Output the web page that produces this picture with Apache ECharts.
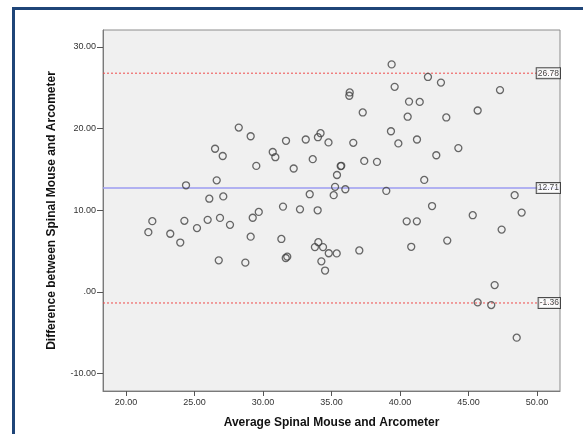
<!DOCTYPE html>
<html>
<head>
<meta charset="utf-8">
<script src="https://cdn.jsdelivr.net/npm/echarts@6/dist/echarts.min.js"></script>
<style>
  html, body { margin: 0; padding: 0; background: #fff; }
  #chart { width: 583px; height: 434px; }
</style>
</head>
<body>
<div id="chart"></div>
<script>
// Bland-Altman: average of the two methods vs their difference
const avgValues = [
  28.23, 29.10, 26.50, 27.06, 29.51, 30.71, 30.90, 31.68, 32.24, 33.12,
  34.01, 34.20, 33.63, 34.78, 24.38, 26.62, 26.08, 27.10, 33.41, 31.46,
  32.70, 33.99, 29.69, 29.25, 21.92, 21.63, 23.23, 23.96, 24.26, 25.18,
  25.96, 26.86, 27.59, 29.10, 31.34, 26.77, 28.71, 31.66, 31.77, 33.79,
  34.04, 34.38, 34.80, 34.26, 34.53, 35.38, 37.03, 40.82, 43.45, 40.49,
  41.23, 47.42, 45.31, 48.88, 48.37, 42.34, 41.77, 39.00, 36.01, 35.26,
  35.16, 35.40, 35.67, 35.71, 37.39, 38.32, 42.65, 44.26, 41.24, 39.88,
  39.34, 36.59, 37.28, 40.56, 43.38, 45.67, 40.66, 41.44, 36.33, 36.30,
  39.61, 42.99, 42.04, 39.39, 47.30, 46.91, 45.67, 46.66, 48.52
];
const diffValues = [
  20.12, 19.06, 17.53, 16.64, 15.43, 17.13, 16.49, 18.50, 15.11, 18.66,
  18.94, 19.43, 16.25, 18.30, 13.05, 13.66, 11.41, 11.69, 11.96, 10.44,
  10.11,  9.99,  9.79,  9.08,  8.66,  7.31,  7.12,  6.04,  8.70,  7.81,
   8.82,  9.06,  8.21,  6.76,  6.48,  3.86,  3.58,  4.15,  4.31,  5.48,
   6.08,  5.48,  4.73,  3.74,  2.61,  4.71,  5.07,  5.52,  6.28,  8.64,
   8.64,  7.63,  9.39,  9.71, 11.84, 10.51, 13.71, 12.37, 12.57, 12.86,
  11.84, 14.31, 15.40, 15.44, 16.04, 15.92, 16.73, 17.61, 18.66, 18.18,
  19.67, 18.25, 21.97, 21.45, 21.36, 22.21, 23.30, 23.26, 24.42, 24.02,
  25.11, 25.63, 26.32, 27.86, 24.71,  0.83, -1.29, -1.62, -5.61
];
const meanDiff = 12.71;
const upperLimit = 26.78;
const lowerLimit = -1.36;
const xTicks = [20, 25, 30, 35, 40, 45, 50];
const yTicks = [-10, 0, 10, 20, 30];
const xMin = 18.32, xMax = 51.68;
const yMin = -12.14, yMax = 32.07;

const fmt = v => (v === 0 ? '.00' : v.toFixed(2));
const refLines = [upperLimit, meanDiff, lowerLimit];

// horizontal reference line across the whole x range
function refLine(v, color, type, width) {
  return {
    type: 'line', silent: true, symbol: 'none',
    data: [[xMin, v], [xMax, v]],
    lineStyle: { color, type, width },
    z: 2
  };
}

const chart = echarts.init(document.getElementById('chart'));
chart.setOption({
  animation: false,
  backgroundColor: '#fff',
  textStyle: { fontFamily: 'Liberation Sans, Arial, sans-serif' },
  graphic: [
    { type: 'rect', shape: { x: 12, y: 7, width: 3, height: 427 }, style: { fill: '#1F4578' } },
    { type: 'rect', shape: { x: 12, y: 7, width: 571, height: 3 }, style: { fill: '#1F4578' } }
  ],
  grid: {
    left: 103, top: 30, width: 457, height: 365,
    show: true, backgroundColor: '#F0F0F0', borderColor: '#8c8c8c', borderWidth: 1
  },
  xAxis: {
    type: 'value', min: xMin, max: xMax,
    name: 'Average Spinal Mouse and Arcometer',
    nameLocation: 'middle', nameGap: 26,
    nameTextStyle: { fontSize: 12, fontWeight: 'bold', color: '#111' },
    axisLine: { show: true, onZero: false, lineStyle: { color: '#7a7a7a' } },
    axisTick: { show: true, length: 5, customValues: xTicks, lineStyle: { color: '#555' } },
    axisLabel: { customValues: xTicks, formatter: fmt, fontSize: 9, color: '#333', margin: 7 },
    splitLine: { show: false }
  },
  yAxis: {
    type: 'value', min: yMin, max: yMax,
    name: 'Difference between Spinal Mouse and Arcometer',
    nameLocation: 'middle', nameGap: 45,
    nameTextStyle: { fontSize: 12, fontWeight: 'bold', color: '#111' },
    axisLine: { show: true, onZero: false, lineStyle: { color: '#7a7a7a' } },
    axisTick: { show: true, length: 6, customValues: yTicks, lineStyle: { color: '#555' } },
    axisLabel: { customValues: yTicks, formatter: fmt, fontSize: 9, color: '#333', margin: 7 },
    splitLine: { show: false }
  },
  series: [
    refLine(upperLimit, '#EE4A4A', [2, 2], 1),
    refLine(meanDiff, '#9C9CF2', 'solid', 1.5),
    refLine(lowerLimit, '#EE4A4A', [2, 2], 1),
    {
      type: 'scatter',
      symbol: 'circle',
      symbolSize: 7,
      data: avgValues.map((x, i) => [x, diffValues[i]]),
      itemStyle: { color: 'rgba(0,0,0,0)', borderColor: '#444', borderWidth: 1.3 },
      z: 3
    },
    {
      type: 'scatter',
      symbolSize: 0,
      silent: true,
      data: refLines.map(v => [xMax, v]),
      label: {
        show: true, position: 'left', distance: 0,
        formatter: p => p.value[1].toFixed(2),
        fontSize: 8.5, color: '#111',
        backgroundColor: '#fff', borderColor: '#222', borderWidth: 1,
        padding: [1, 1, 0, 1], lineHeight: 9
      },
      z: 5
    }
  ]
});
</script>
</body>
</html>
